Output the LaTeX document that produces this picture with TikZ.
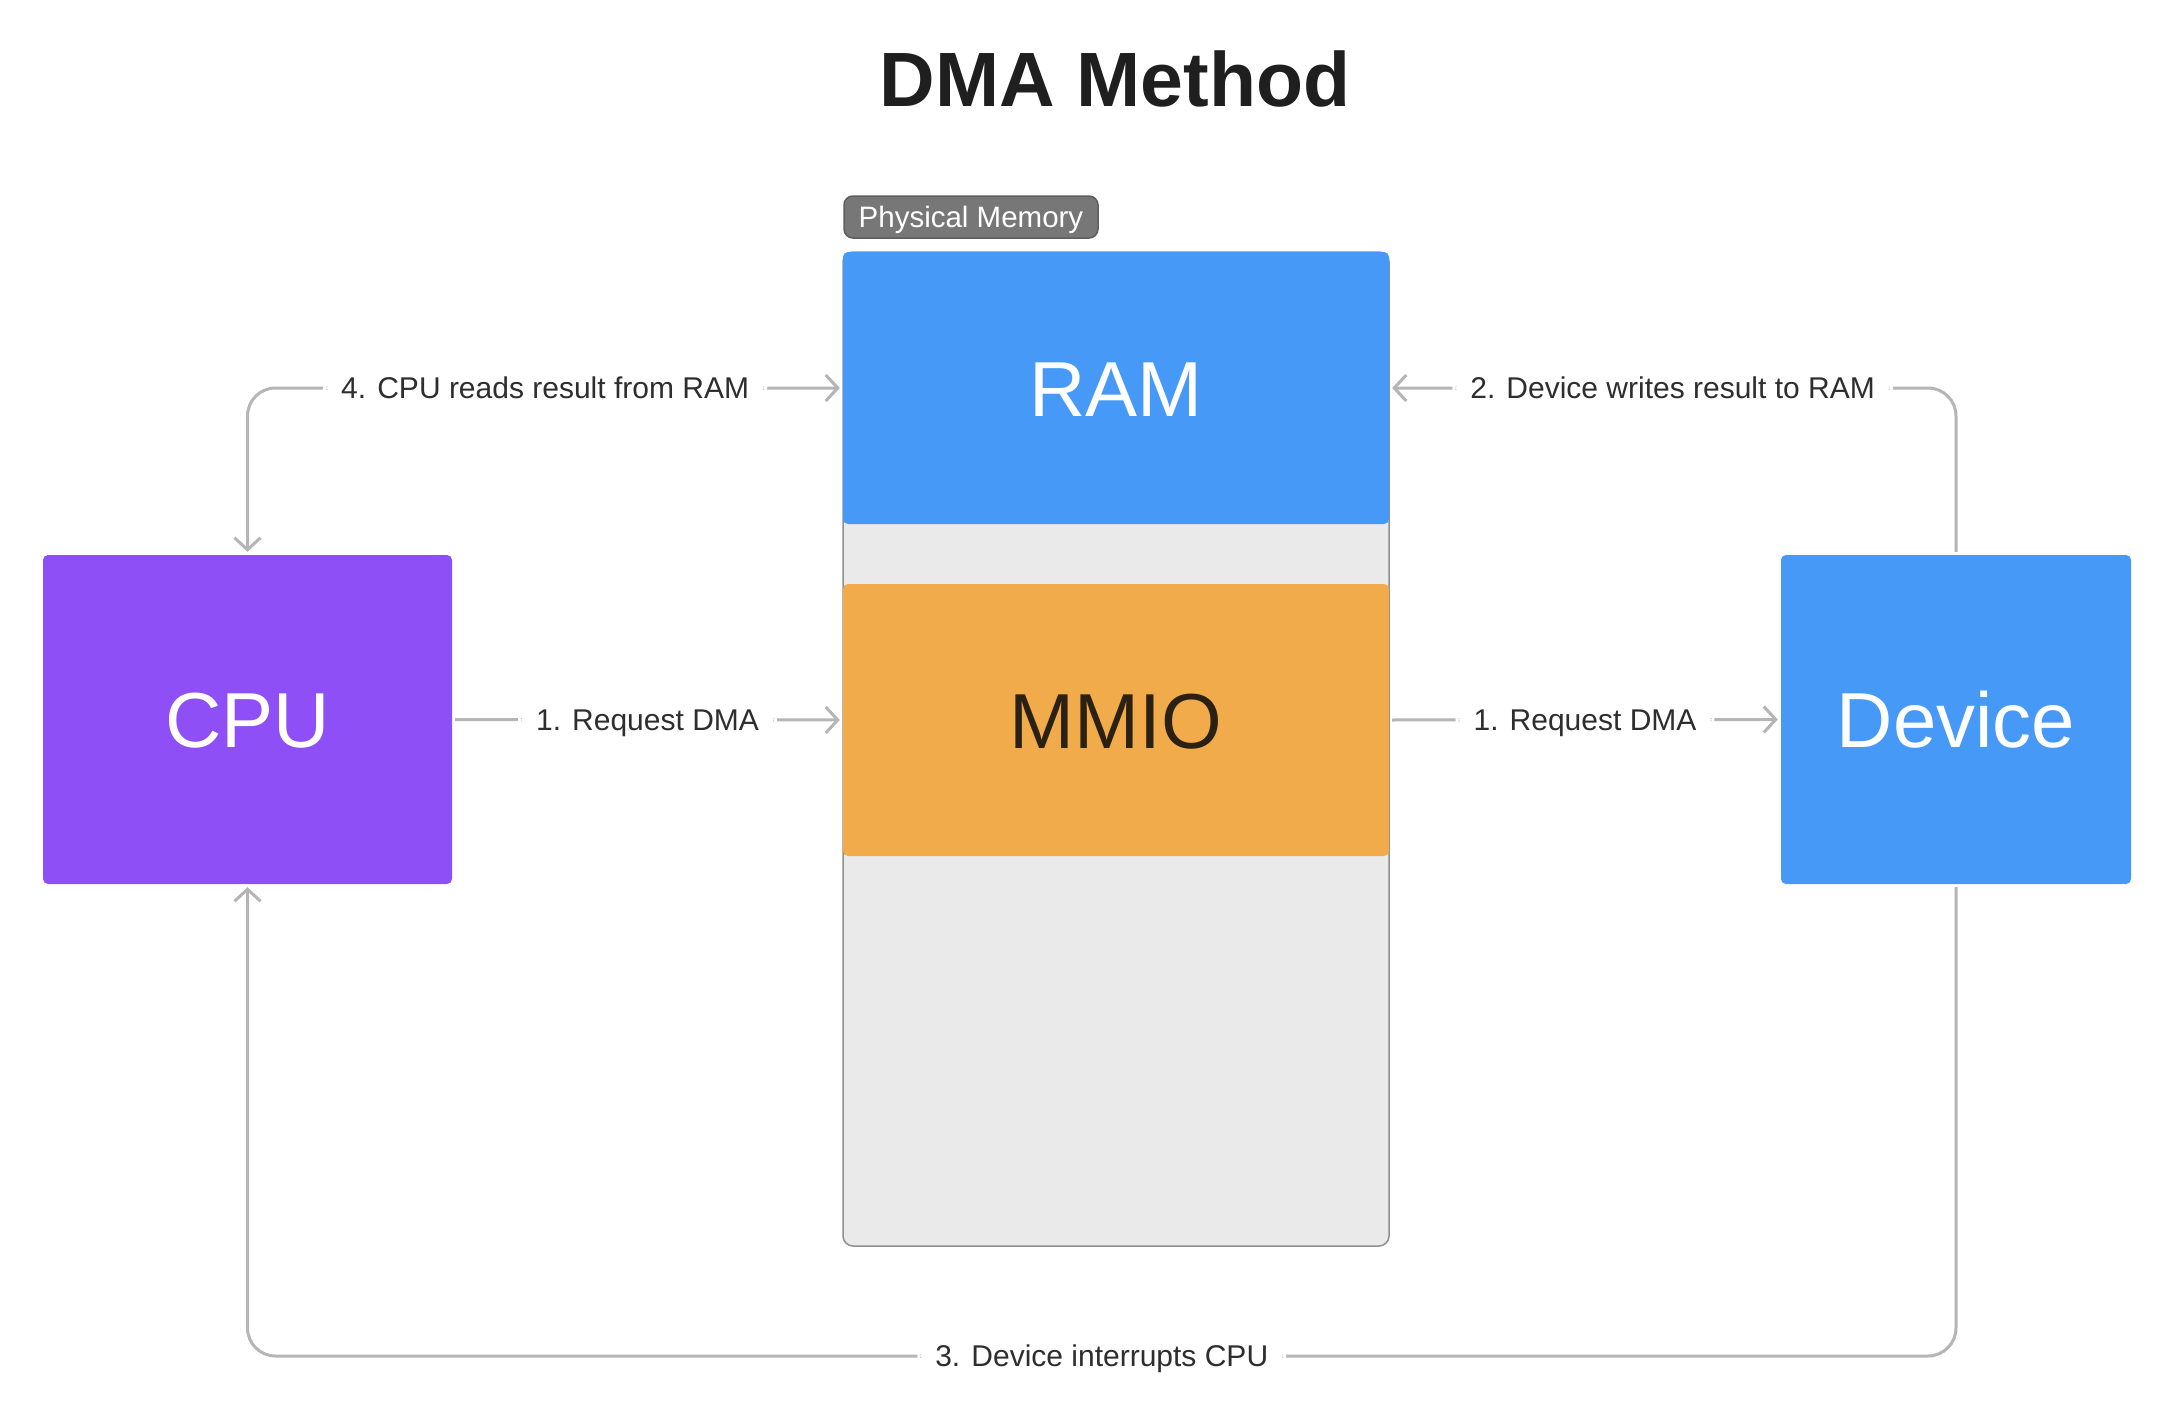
\documentclass[tikz,border=0pt]{standalone}
\usepackage{fontspec}
\setmainfont{Liberation Sans}
\usetikzlibrary{arrows.meta}
\definecolor{cpupurple}{HTML}{8E4FF6}
\definecolor{blueb}{HTML}{4799F8}
\definecolor{mmioorange}{HTML}{F2AB4B}
\definecolor{memgray}{HTML}{EAEAEA}
\definecolor{memborder}{HTML}{8F8F8F}
\definecolor{taggray}{HTML}{777777}
\definecolor{tagborder}{HTML}{5E5E5E}
\definecolor{conncol}{HTML}{B5B5B5}
\definecolor{labeltext}{HTML}{2E2E2E}
\definecolor{titletext}{HTML}{1F1F1F}
\definecolor{mmiotext}{HTML}{2B2112}
\begin{document}
\begin{tikzpicture}[x=1pt,y=-1pt,
  box/.style={rectangle, rounded corners=5pt, draw=none, inner sep=0pt, text=white,
    font=\fontsize{78}{90}\selectfont, text height=56pt, text depth=0pt},
  conn/.style={draw=conncol, line width=3pt, rounded corners=28pt, shorten >=3pt, shorten <=3pt},
  arr/.style={-{Straight Barb[length=12pt,width=26pt]}},
  darr/.style={{Straight Barb[length=12pt,width=26pt]}-{Straight Barb[length=12pt,width=26pt]}},
  lbl/.style={fill=white, text=labeltext, inner xsep=18pt, inner ysep=4pt,
    font=\fontsize{30}{36}\selectfont, text height=21.5pt, text depth=0pt},
  tag/.style={fill=taggray, draw=tagborder, line width=1.5pt, rounded corners=9pt,
    minimum width=254pt, minimum height=42pt, inner sep=0pt, text=white,
    font=\fontsize{29.5}{34}\selectfont, text height=21pt, text depth=0pt},
  membox/.style={draw=memborder, fill=memgray, line width=1.5pt, rounded corners=10pt,
    minimum width=546pt, minimum height=994pt, inner sep=0pt}
]
\useasboundingbox[fill=white] (0,0) rectangle (2180,1426);

\node[font=\fontsize{77}{92}\selectfont\bfseries, text=titletext, text height=55pt, text depth=0pt, inner sep=0pt] (title) at (1115,79) {DMA Method};

\node[membox] (mem) at (1116,749) {};
\node[tag] (phys) at (971,217) {Physical Memory};
\node[box, fill=blueb, minimum width=546pt, minimum height=272pt] (ram) at (1116,388) {RAM};
\node[box, fill=mmioorange, text=mmiotext, minimum width=546pt, minimum height=272pt] (mmio) at (1116,720) {MMIO};
\node[box, fill=cpupurple, minimum width=409pt, minimum height=329pt] (cpu) at (247.5,719.5) {CPU};
\node[box, fill=blueb, minimum width=350pt, minimum height=329pt] (dev) at (1956,719.5) {Device};

\coordinate (bl) at (247.5,1356);
\coordinate (br) at (1956,1356);

\draw[conn, darr] (cpu.north) -- (cpu.north |- ram.west) -- node[lbl] {4. CPU reads result from RAM} (ram.west);
\draw[conn, arr] (dev.north) -- (dev.north |- ram.east) -- node[lbl] {2. Device writes result to RAM} (ram.east);
\draw[conn, arr] (cpu.east) -- node[lbl] {1. Request DMA} (mmio.west);
\draw[conn, arr] (mmio.east) -- node[lbl] {1. Request DMA} (dev.west);
\draw[conn, arr] (dev.south) -- (br) -- node[lbl] {3. Device interrupts CPU} (bl) -- (cpu.south);
\end{tikzpicture}
\end{document}
